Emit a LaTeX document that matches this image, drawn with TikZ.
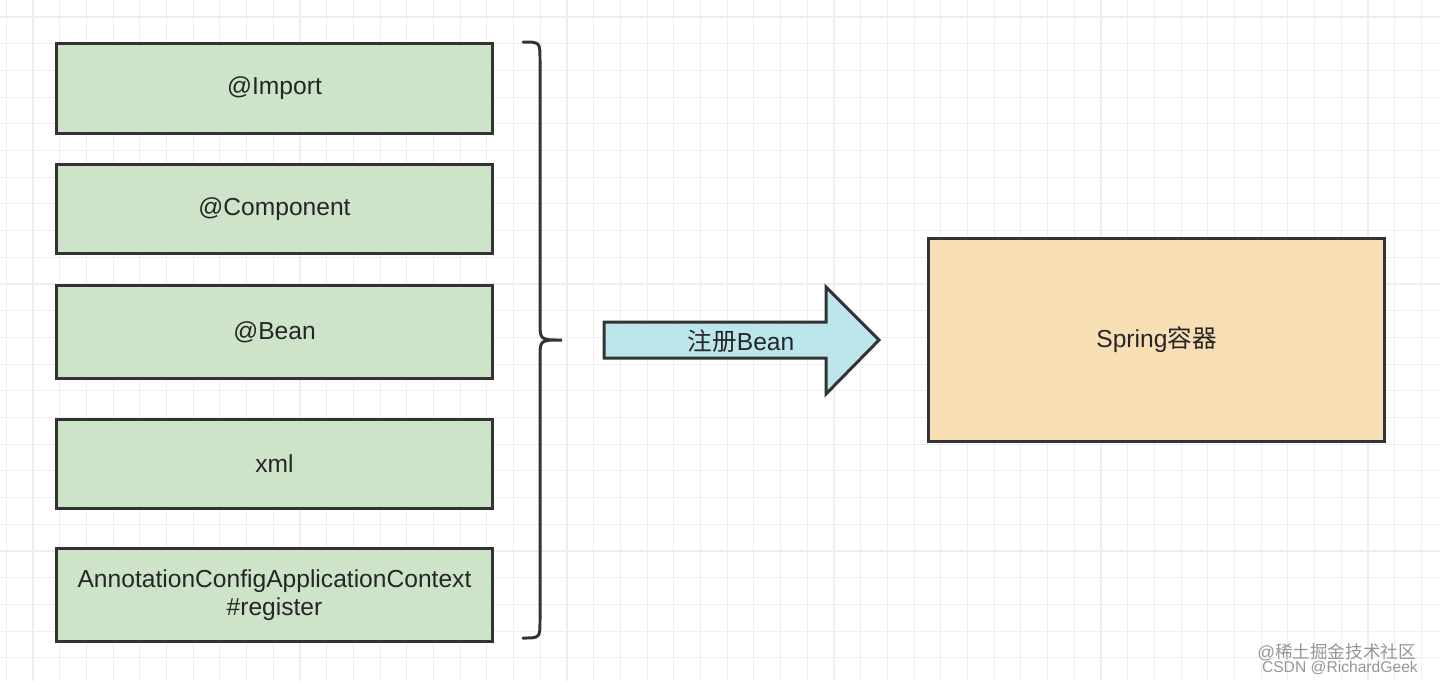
\documentclass[tikz,border=0pt]{standalone}
\usepackage{fontspec}
\setmainfont{Liberation Sans}
\newfontfamily\cjk{Noto Sans CJK SC}
\usepackage{tikz}
\usetikzlibrary{positioning}

\definecolor{boxgreen}{RGB}{205,228,201}
\definecolor{boxorange}{RGB}{248,222,181}
\definecolor{arrowcyan}{RGB}{186,230,236}
\definecolor{edgegray}{RGB}{51,51,51}
\definecolor{gridgray}{RGB}{238,238,238}
\definecolor{markgray}{RGB}{150,150,150}

\begin{document}
\begin{tikzpicture}[
  x=0.02cm, y=-0.02cm,
  font=\fontsize{14}{16}\selectfont,
  srcbox/.style={draw=edgegray,line width=1.7pt,fill=boxgreen,minimum width=8.72cm,align=center,text=black!85},
  boxctr/.style={draw=edgegray,line width=1.7pt,fill=boxorange,minimum width=9.12cm,minimum height=4.06cm,text=black!85}
]

% background and grid
\fill[white] (0,0) rectangle (1440,681);
\useasboundingbox (0,0) rectangle (1440,681);
\foreach \gx in {0,...,53}
  \draw[gridgray,line width=0.6pt] (6.3+26.7*\gx,0) -- (6.3+26.7*\gx,681);
\foreach \gy in {0,...,25}
  \draw[gridgray,line width=0.6pt] (0,17+26.7*\gy) -- (1440,17+26.7*\gy);

% sources
\node[srcbox,minimum height=1.8cm] (imp) at (274.5,88.5) {@Import};
\node[srcbox,minimum height=1.78cm] (comp) at (274.5,209) {@Component};
\node[srcbox,minimum height=1.86cm] (bean) at (274.5,332) {@Bean};
\node[srcbox,minimum height=1.78cm] (xml) at (274.5,464) {xml};
\node[srcbox,minimum height=1.86cm] (reg) at (274.5,595) {AnnotationConfigApplicationContext\\\#register};

% brace
\draw[edgegray,line width=1.7pt,line cap=round]
  (523,42) .. controls (540,42) .. (540,60) -- (540,322)
  .. controls (540,340) .. (562,340)
  .. controls (540,340) .. (540,358) -- (540,620)
  .. controls (540,638) .. (523,638);

% arrow
\draw[edgegray,line width=1.7pt,fill=arrowcyan,line join=miter]
  (604,322) -- (826,322) -- (826,287) -- (879,340) -- (826,394) -- (826,358) -- (604,358) -- cycle;
\node[text=black!85] (reglabel) at (741,341) {{\cjk 注册}Bean};

% container
\node[boxctr] (spring) at (1156.5,340) {Spring{\cjk 容器}};

% watermark
\node[markgray,font=\fontsize{10}{11}\selectfont,anchor=east] (wm1) at (1422,652) {@{\cjk 稀土掘金技术社区}};
\node[markgray,font=\fontsize{8.9}{10}\selectfont,anchor=east] (wm2) at (1424,668) {CSDN @RichardGeek};

\end{tikzpicture}
\end{document}
